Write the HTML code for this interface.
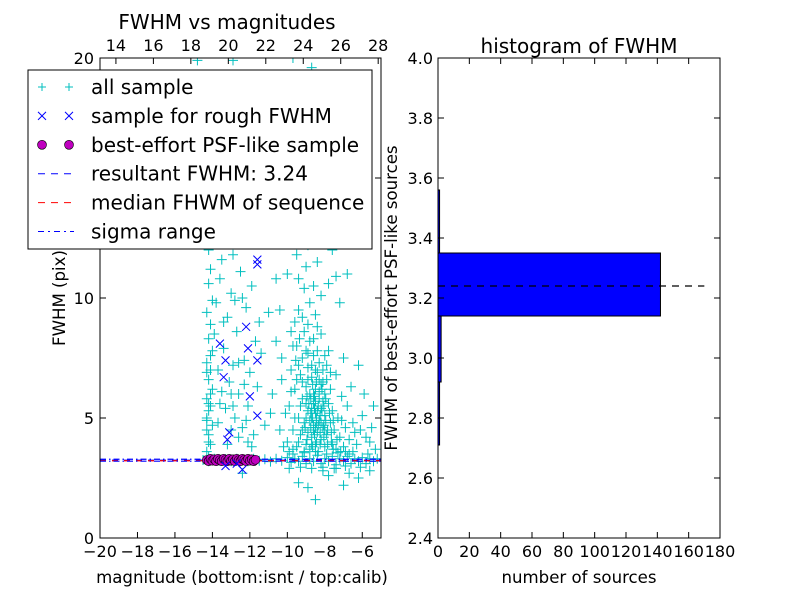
<!DOCTYPE html>
<html><head><meta charset="utf-8"><style>
body{margin:0;background:#fff}
svg{display:block;font-family:"DejaVu Sans","Liberation Sans",sans-serif}
</style></head><body>
<svg id="chart" width="800" height="600" viewBox="0 0 800 600" xmlns="http://www.w3.org/2000/svg">
<rect width="800" height="600" fill="#fff"/>
<g id="left"></g><g id="right"></g>
</svg>
<script>
const allSample=[[-14.3,3.6],[-14.1,3.9],[-14.2,4.3],[-14.0,4.7],[-14.3,5.0],[-14.2,5.3],[-14.1,5.5],[-14.3,5.8],[-14.0,6.2],[-14.2,6.6],[-14.1,7.0],[-14.3,7.3],[-14.0,7.8],[-14.2,8.3],[-14.1,8.9],[-14.3,9.4],[-14.0,9.9],[-14.2,10.6],[-14.1,11.2],[-14.2,12.0],[-14.3,4.9],[-14.2,5.6],[-14.1,6.0],[-14.2,4.0],[-14.3,6.9],[-14.1,7.6],[-14.2,3.4],[-14.3,4.5],
[-13.8,9.8],[-13.6,10.8],[-13.5,6.1],[-13.4,7.9],[-13.3,5.4],[-13.2,9.2],[-13.1,6.5],[-13.0,10.2],[-12.9,7.2],[-12.8,5.0],[-12.7,8.6],[-12.6,6.0],[-12.5,11.1],[-12.4,4.6],[-12.3,7.4],[-12.2,9.6],[-12.1,5.5],[-12.0,6.9],[-11.9,10.5],[-11.8,4.3],[-11.7,8.2],[-11.6,6.3],[-11.5,9.0],[-13.7,4.8],[-13.2,3.9],[-12.6,4.2],[-12.1,4.0],[-13.9,8.5],[-13.5,11.6],[-12.9,11.8],[-12.4,10.0],[-11.9,3.8],[-13.0,4.5],[-12.3,6.4],[-11.4,7.7],[-11.2,4.7],[-11.0,9.4],[-10.8,6.0],[-10.6,10.8],[-10.9,5.2],[-13.6,5.6],[-13.4,9.0],[-13.0,6.0],[-12.8,9.9],[-12.6,7.3],[-12.2,4.9],[-13.7,7.0],[-12.9,5.5],
[-10.0,4.0],[-9.9,5.5],[-9.8,7.0],[-9.7,4.5],[-9.6,6.2],[-9.5,8.0],[-9.5,3.8],[-9.4,5.0],[-9.3,6.8],[-9.3,4.3],[-9.2,7.5],[-9.2,5.8],[-9.1,4.8],[-9.1,8.6],[-9.0,6.3],[-9.0,3.9],[-8.9,5.3],[-8.9,7.1],[-8.9,4.4],[-8.8,6.0],[-8.8,8.2],[-8.8,3.7],[-8.7,5.0],[-8.7,6.7],[-8.7,4.2],[-8.6,5.6],[-8.6,7.6],[-8.6,4.7],[-8.5,6.2],[-8.5,3.9],[-8.5,5.2],[-8.4,6.9],[-8.4,4.4],[-8.4,8.8],[-8.3,5.8],[-8.3,4.9],[-8.3,7.3],[-8.2,6.4],[-8.2,4.1],[-8.2,5.4],[-8.1,7.0],[-8.1,4.6],[-8.0,6.0],[-8.0,3.8],[-8.0,5.1],[-7.9,6.6],[-7.9,4.3],[-7.8,5.6],[-7.8,7.8],[-7.7,4.8],[-7.7,6.2],[-7.6,3.9],[-7.6,5.3],[-7.5,4.5],[-7.4,6.8],[-7.4,3.7],[-7.3,5.0],[-7.2,4.2],[-7.1,5.9],[-7.0,3.8],[-6.9,4.6],[-8.6,6.0],[-8.5,5.7],[-8.7,5.4],[-8.4,5.3],[-8.3,6.1],[-8.6,4.5],[-8.8,4.9],[-8.1,5.7],[-8.9,6.6],[-9.0,5.6],[-8.2,4.8],[-8.5,4.6],[-8.7,3.9],[-8.0,4.5],[-9.4,9.5],[-8.8,9.8],[-9.1,10.4],[-8.5,9.3],[-9.6,9.0],[-8.2,8.5],[-9.8,8.6],
[-8.55,5.9],[-8.45,5.0],[-8.65,6.4],[-8.35,4.7],[-8.75,5.2],[-8.25,5.1],[-8.45,6.5],[-8.95,5.9],[-8.15,6.2],[-8.55,4.3],[-8.05,5.5],[-8.85,5.6],[-7.95,4.9],[-9.05,4.6],[-8.35,3.6],
[-9.0,7.8],[-9.2,6.5],[-9.4,7.2],[-9.3,5.5],[-9.5,6.6],[-9.6,5.0],[-9.1,3.6],[-8.95,4.1],[-8.75,4.6],[-8.65,3.8],[-8.45,4.0],[-8.25,3.9],[-8.05,4.2],[-7.85,3.9],[-7.65,4.4],[-7.55,3.7],[-7.35,4.1],[-7.15,3.6],[-8.9,7.7],[-8.7,7.2],[-8.5,7.0],[-8.3,6.6],[-8.1,6.5],[-7.9,7.2],[-7.7,6.9],[-8.6,8.3],[-8.4,7.8],[-8.9,8.9],[-9.2,9.2],[-8.0,7.6],[-8.75,5.8],[-8.55,5.4],[-8.35,5.5],[-8.15,5.3],[-7.95,5.8],[-7.75,5.2],[-7.55,4.9],[-8.65,5.0],[-8.45,4.8],[-8.25,4.4],[-8.05,4.7],[-7.85,4.5],[-7.65,4.0],[-9.0,5.0],[-9.2,4.5],[-9.4,4.0],[-9.7,3.7],[-9.9,3.6],[-10.2,3.8],[-10.4,4.5],[-10.1,5.2],[-9.8,6.1],[-10.3,6.6],[-9.55,7.4],[-9.35,8.3],[-9.7,8.0],
[-10.2,12.6],[-9.8,13.4],[-9.5,11.8],[-9.2,14.5],[-8.9,12.2],[-8.6,15.8],[-8.4,11.5],[-8.1,13.0],[-7.8,10.6],[-9.9,16.5],[-10.5,14.0],[-9.0,17.8],[-8.7,19.6],[-10.1,19.3],[-7.6,12.0],[-7.2,9.8],[-6.8,11.0],[-11.2,13.5],[-11.8,15.2],[-12.6,13.0],[-13.2,14.6],[-11.0,19.0],[-9.7,20.0],[-14.8,19.9],[-12.9,19.9],[-9.4,10.8],[-8.6,10.5],[-8.2,10.1],[-10.0,11.0],[-9.0,11.3],[-7.4,10.9],[-10.4,9.5],[-10.6,8.2],[-10.3,7.5],
[-6.8,5.5],[-6.5,4.8],[-6.3,3.9],[-6.0,5.1],[-5.8,4.2],[-5.5,4.6],[-5.3,3.7],[-6.6,6.3],[-5.9,6.0],[-6.2,7.2],[-7.0,7.5],[-5.4,5.5],[-6.9,3.6],[-6.4,4.4],[-5.7,3.5],[-6.7,4.1],[-6.1,4.5],[-5.6,4.0],[-7.1,4.9],[-6.5,3.6],
[-14.5,3.25],[-14.2,3.2],[-13.9,3.3],[-13.6,3.22],[-13.3,3.28],[-13.0,3.2],[-12.7,3.3],[-12.4,3.24],[-12.1,3.2],[-11.8,3.3],[-11.5,3.22],[-11.2,3.28],[-10.9,3.18],[-10.6,3.3],[-10.3,3.22],[-10.0,3.35],[-9.8,3.15],[-9.6,3.3],[-9.4,3.2],[-9.2,3.4],[-9.0,3.1],[-8.8,3.3],[-8.6,3.2],[-8.4,3.45],[-8.2,3.1],[-8.0,3.3],[-7.8,3.2],[-7.6,3.4],[-7.4,3.05],[-7.2,3.3],[-7.0,3.2],[-6.8,3.4],[-6.6,3.1],[-6.4,3.3],[-6.2,3.2],[-6.0,3.35],[-5.8,3.1],[-5.6,3.3],[-5.4,3.2],[-5.2,3.3],[-9.7,3.5],[-9.1,3.55],[-8.5,3.6],[-7.9,3.5],[-7.3,3.55],[-6.7,3.5],[-9.3,2.95],[-8.7,2.9],[-8.1,2.95],[-7.5,2.9],[-6.9,3.0],[-6.1,2.95],
[-12.4,2.7],[-9.4,2.3],[-8.9,2.1],[-8.5,1.6],[-7.8,2.6],[-7.0,2.2],[-6.2,2.5],[-5.6,2.8],[-9.9,2.9],[-8.1,2.8],[-7.4,2.9],[-6.7,2.7]];
const roughSample=[[-13.6,8.1],[-13.3,7.4],[-13.4,6.7],[-12.1,7.9],[-12.2,8.8],[-11.6,7.4],[-12.0,5.9],[-11.6,5.1],[-13.1,4.4],[-13.2,4.1],[-11.6,11.6],[-11.6,11.4],[-12.4,2.85],[-13.3,3.0],[-12.7,3.1]];
const psfSample=[[-14.3,3.25],[-14.2,3.2],[-14.1,3.3],[-14.0,3.22],[-13.9,3.28],[-13.8,3.2],[-13.7,3.3],[-13.6,3.24],[-13.5,3.2],[-13.4,3.3],[-13.3,3.25],[-13.2,3.2],[-13.1,3.3],[-13.0,3.22],[-12.9,3.28],[-12.8,3.2],[-12.7,3.3],[-12.6,3.24],[-12.5,3.2],[-12.4,3.3],[-12.3,3.25],[-12.2,3.2],[-12.1,3.3],[-12.0,3.22],[-11.9,3.28],[-11.8,3.2],[-11.7,3.26]];
const resultantFWHM=3.24, medianFWHM=3.22, sigmaLow=3.2, sigmaHigh=3.28;
const xTicks=[-20,-18,-16,-14,-12,-10,-8,-6];
const xTopTicks=[14,16,18,20,22,24,26,28];
const yTicks=[0,5,10,15,20];
const histEdges=[2.71,2.92,3.14,3.35,3.56];
const histCounts=[1,2,142,1];
const hYTicks=[2.4,2.6,2.8,3.0,3.2,3.4,3.6,3.8,4.0];
const hXTicks=[0,20,40,60,80,100,120,140,160,180];

const NS="http://www.w3.org/2000/svg";
function mk(p,t,a,txt){const e=document.createElementNS(NS,t);for(const k in a)e.setAttribute(k,a[k]);if(txt!==undefined)e.textContent=txt;p.appendChild(e);return e;}
const L=document.getElementById('left'), R=document.getElementById('right');
const lx0=100,lx1=381,ly0=58,ly1=538;
const X=m=>lx0+(m+20)*(lx1-lx0)/15;
const Y=f=>ly1-f*(ly1-ly0)/20;
const XT=c=>X(c-33.15);
const clipL=mk(L,'clipPath',{id:'cl'});mk(clipL,'rect',{x:lx0,y:ly0,width:lx1-lx0,height:ly1-ly0});
const plot=mk(L,'g',{'clip-path':'url(#cl)'});


allSample.forEach(p=>{const x=X(p[0]),y=Y(p[1]);
 const g=mk(plot,'path',{d:`M${x-5},${y}H${x+5}M${x},${y-5}V${y+5}`,stroke:'#00bfbf','stroke-width':1});
 
 });
const hl=(y,col,dash,w)=>mk(plot,'line',{x1:lx0,x2:lx1,y1:Y(y),y2:Y(y),stroke:col,'stroke-dasharray':dash,'stroke-width':w||1.2});
hl(resultantFWHM,'#0000ff','6,6');
hl(medianFWHM,'#ff0000','6,6');
hl(sigmaLow,'#0000ff','6,3,1.5,3');
hl(sigmaHigh,'#0000ff','6,3,1.5,3');
psfSample.forEach(p=>{const c=mk(plot,'circle',{cx:X(p[0]),cy:Y(p[1]),r:4.5,fill:'#bf00bf',stroke:'#000','stroke-width':0.6});
 
 });
roughSample.forEach(p=>{const x=X(p[0]),y=Y(p[1]);
 const g=mk(plot,'path',{d:`M${x-4},${y-4}L${x+4},${y+4}M${x-4},${y+4}L${x+4},${y-4}`,stroke:'#0000ff','stroke-width':1});
 
 });
mk(L,'rect',{x:lx0,y:ly0,width:lx1-lx0,height:ly1-ly0,fill:'none',stroke:'#000','stroke-width':1});
xTicks.forEach(t=>{const x=X(t);mk(L,'path',{d:`M${x},${ly1}v-6`,stroke:'#000'});
 const e=mk(L,'text',{x:x,y:557,'text-anchor':'middle','font-size':16},(t<0?'\u2212':'')+Math.abs(t));
 
 });
xTopTicks.forEach(t=>{const x=XT(t);mk(L,'path',{d:`M${x},${ly0}v6`,stroke:'#000'});
 const e=mk(L,'text',{x:x,y:51,'text-anchor':'middle','font-size':16},String(t));
 
 });
yTicks.forEach(t=>{const y=Y(t);mk(L,'path',{d:`M${lx0},${y}h6M${lx1},${y}h-6`,stroke:'#000'});
 const e=mk(L,'text',{x:94,y:y+6,'text-anchor':'end','font-size':16},String(t));
 
 });
let e;
e=mk(L,'text',{x:227,y:29,'text-anchor':'middle','font-size':20},'FWHM vs magnitudes');

e=mk(L,'text',{x:242,y:583,'text-anchor':'middle','font-size':16.6},'magnitude (bottom:isnt / top:calib)');

e=mk(L,'text',{x:0,y:0,'text-anchor':'middle','font-size':16.6,transform:'translate(65,298) rotate(-90)'},'FWHM (pix)');

const lg=mk(L,'g',{});


mk(lg,'rect',{x:28,y:70,width:344,height:179,fill:'#fff',stroke:'#000','stroke-width':1});
const labels=['all sample','sample for rough FWHM','best-effort PSF-like sample','resultant FWHM: 3.24','median FHWM of sequence','sigma range'];
labels.forEach((t,i)=>{const y=87+i*28.9;
 if(i==0)[42,69].forEach(x=>mk(lg,'path',{d:`M${x-4},${y}h8M${x},${y-4}v8`,stroke:'#00bfbf'}));
 if(i==1)[42,69].forEach(x=>mk(lg,'path',{d:`M${x-4},${y-4}l8,8M${x-4},${y+4}l8,-8`,stroke:'#0000ff'}));
 if(i==2)[42,69].forEach(x=>mk(lg,'circle',{cx:x,cy:y,r:4.5,fill:'#bf00bf',stroke:'#000','stroke-width':0.6}));
 if(i==3)mk(lg,'line',{x1:38,x2:74,y1:y,y2:y,stroke:'#0000ff','stroke-dasharray':'7,6'});
 if(i==4)mk(lg,'line',{x1:38,x2:74,y1:y,y2:y,stroke:'#ff0000','stroke-dasharray':'7,6'});
 if(i==5)mk(lg,'line',{x1:38,x2:74,y1:y,y2:y,stroke:'#0000ff','stroke-dasharray':'6,4,2,4'});
 const tx=mk(lg,'text',{x:91,y:y+7,'font-size':20},t);
 
 });
const rx0=438,rx1=720,ry0=58,ry1=538;
const HX=c=>rx0+c*(rx1-rx0)/180;
const HY=v=>ry1-(v-2.4)*(ry1-ry0)/1.6;
histCounts.forEach((c,i)=>{const y1=HY(histEdges[i+1]),y2=HY(histEdges[i]);
 const b=mk(R,'rect',{x:rx0,y:y1,width:Math.max(HX(c)-rx0,1),height:y2-y1,fill:'#0000ff',stroke:'#000','stroke-width':1});
 
 });
e=mk(R,'line',{x1:rx0,x2:HX(170),y1:HY(resultantFWHM),y2:HY(resultantFWHM),stroke:'#000','stroke-dasharray':'7,6','stroke-width':1.2});

mk(R,'rect',{x:rx0,y:ry0,width:rx1-rx0,height:ry1-ry0,fill:'none',stroke:'#000'});
hYTicks.forEach(t=>{const y=HY(t);mk(R,'path',{d:`M${rx0},${y}h6M${rx1},${y}h-6`,stroke:'#000'});
 const e=mk(R,'text',{x:433,y:y+6,'text-anchor':'end','font-size':16},t.toFixed(1));
 
 });
hXTicks.forEach(t=>{const x=HX(t);mk(R,'path',{d:`M${x},${ry1}v-6M${x},${ry0}v6`,stroke:'#000'});
 const e=mk(R,'text',{x:x,y:557,'text-anchor':'middle','font-size':16},String(t));
 
 });
e=mk(R,'text',{x:579,y:53,'text-anchor':'middle','font-size':20},'histogram of FWHM');

e=mk(R,'text',{x:579,y:583,'text-anchor':'middle','font-size':16.6},'number of sources');

e=mk(R,'text',{x:0,y:0,'text-anchor':'middle','font-size':16.6,transform:'translate(397,298) rotate(-90)'},'FWHM of best-effort PSF-like sources');

</script>
</body></html>
